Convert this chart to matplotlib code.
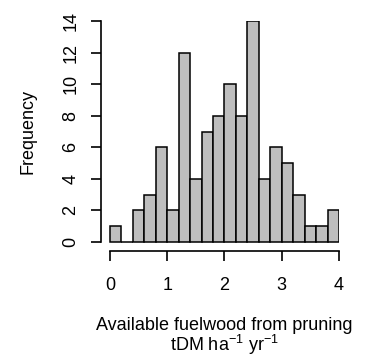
import numpy as np
import matplotlib
matplotlib.use("Agg")
import matplotlib.pyplot as plt

plt.rcParams['font.family'] = ['Liberation Sans', 'DejaVu Sans']
plt.rcParams['mathtext.fontset'] = 'custom'
plt.rcParams['mathtext.rm'] = 'Liberation Sans'

# histogram bins (width 0.2 from 0 to 4) and counts
bin_edges = [round(0.2 * i, 1) for i in range(21)]
counts = [1, 0, 2, 3, 6, 2, 12, 4, 7, 8, 10, 8, 14, 4, 6, 5, 3, 1, 1, 2]
x_ticks = [0, 1, 2, 3, 4]
y_ticks = [0, 2, 4, 6, 8, 10, 12, 14]

fig = plt.figure(figsize=(3.66, 3.61), dpi=100)
ax = fig.add_axes([101/366, 110/361, 238/366, 230/361])

lefts = bin_edges[:-1]
widths = np.diff(bin_edges)
ax.bar(lefts, counts, width=widths, align='edge', color='#bebebe',
       edgecolor='black', linewidth=1.1)

ax.set_xlim(-0.157, 4.0)
ax.set_ylim(-0.57, 14.0)

for s in ['top', 'right']:
    ax.spines[s].set_visible(False)
ax.spines['left'].set_bounds(0, 14)
ax.spines['bottom'].set_bounds(0, 4)
ax.spines['left'].set_linewidth(1.2)
ax.spines['bottom'].set_linewidth(1.2)

ax.set_xticks(x_ticks)
ax.set_yticks(y_ticks)
ax.tick_params(axis='both', direction='out', length=7.5, width=1.2, labelsize=13)
ax.tick_params(axis='x', pad=11)
ax.tick_params(axis='y', pad=8)
for lab in ax.get_yticklabels():
    lab.set_rotation(90)
    lab.set_va('center')

fig.text(28/366, 1 - 131/361, 'Frequency', rotation=90, ha='center', va='center', fontsize=13)
fig.text(224/366, 1 - 326/361, 'Available fuelwood from pruning', ha='center', va='center', fontsize=13)
fig.text(224/366, 1 - 345/361, r'tDM ha$^{\mathregular{-1}}$ yr$^{\mathregular{-1}}$',
         ha='center', va='center', fontsize=13)

fig.savefig('out.png', dpi=100)
